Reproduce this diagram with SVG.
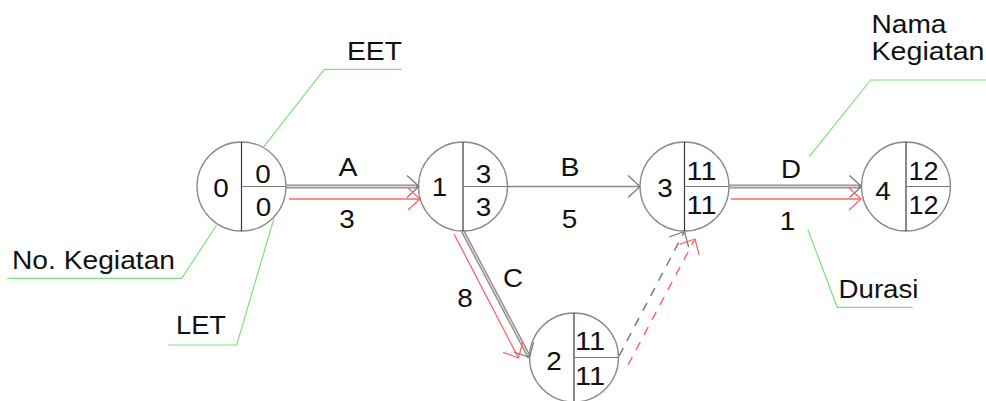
<svg xmlns="http://www.w3.org/2000/svg" width="986" height="401" viewBox="0 0 986 401">
  <style>
    text { font-family: "Liberation Sans", Arial, sans-serif; font-size: 25.5px; fill: #111; }
    .mid { text-anchor: middle; }
    .ring { fill: none; stroke: #8a8a8a; stroke-width: 1.3; }
    .vdiv { stroke: #3a3a3a; stroke-width: 1.2; }
    .hdiv { stroke: #7a7a7a; stroke-width: 1.2; }
    .crit-out { fill: none; stroke: #8a8a8a; stroke-width: 3.8; }
    .crit-in { fill: none; stroke: #dcdcdc; stroke-width: 1.3; }
    .plain { fill: none; stroke: #8a8a8a; stroke-width: 1.6; }
    .red { fill: none; stroke: #ff6464; stroke-width: 1.3; }
    .dash-gray { fill: none; stroke: #7a7a7a; stroke-width: 1.5; stroke-dasharray: 9 8; }
    .dash-red { fill: none; stroke: #ff6464; stroke-width: 1.5; stroke-dasharray: 9 8; }
    .leader { fill: none; stroke: #7be27b; stroke-width: 1.2; }
  </style>
  <defs>
    <marker id="headGray" markerUnits="userSpaceOnUse" orient="auto" refX="0" refY="0" markerWidth="30" markerHeight="30" overflow="visible">
      <path d="M-12,-11 L0,0 L-12,11" fill="none" stroke="#7a7a7a" stroke-width="1.3"/>
    </marker>
    <marker id="headRed" markerUnits="userSpaceOnUse" orient="auto" refX="0" refY="0" markerWidth="30" markerHeight="30" overflow="visible">
      <path d="M-12,-11 L0,0 L-12,11" fill="none" stroke="#ff6464" stroke-width="1.3"/>
    </marker>
  </defs>

  <rect width="986" height="401" fill="#ffffff"/>

  <!-- activity arrows -->
  <g id="connectors">
    <!-- A -->
    <path class="crit-out" d="M286,186.5 H419" marker-end="url(#headGray)"/>
    <path class="crit-in" d="M286,186.5 H416"/>
    <path class="red" d="M289,199 H420" marker-end="url(#headRed)"/>
    <!-- B -->
    <path class="plain" d="M507.5,186.5 H640" marker-end="url(#headGray)"/>
    <!-- C -->
    <path class="crit-out" d="M462.7,231 L529.5,357.5" marker-end="url(#headGray)"/>
    <path class="crit-in" d="M462.7,231 L528.3,355.2"/>
    <path class="red" d="M454,234 L518.5,358" marker-end="url(#headRed)"/>
    <!-- D -->
    <path class="crit-out" d="M729,186.5 H861.5" marker-end="url(#headGray)"/>
    <path class="crit-in" d="M729,186.5 H858.5"/>
    <path class="red" d="M731,199 H861" marker-end="url(#headRed)"/>
    <!-- dummy -->
    <path class="dash-gray" d="M619,356 L684.5,231.5" marker-end="url(#headGray)"/>
    <path class="dash-red" d="M628,365 L695,239" marker-end="url(#headRed)"/>
  </g>

  <!-- activity labels -->
  <g id="activity-labels">
    <text class="mid" x="348" y="176" textLength="19" lengthAdjust="spacingAndGlyphs">A</text>
    <text class="mid" x="347" y="228" textLength="15.5" lengthAdjust="spacingAndGlyphs">3</text>
    <text class="mid" x="570" y="176" textLength="19" lengthAdjust="spacingAndGlyphs">B</text>
    <text class="mid" x="569.5" y="227.5" textLength="15.5" lengthAdjust="spacingAndGlyphs">5</text>
    <text class="mid" x="513" y="287" textLength="20" lengthAdjust="spacingAndGlyphs">C</text>
    <text class="mid" x="465" y="307" textLength="15.5" lengthAdjust="spacingAndGlyphs">8</text>
    <text class="mid" x="791" y="177.5" textLength="20" lengthAdjust="spacingAndGlyphs">D</text>
    <text class="mid" x="787.5" y="229.5" textLength="15.5" lengthAdjust="spacingAndGlyphs">1</text>
  </g>

  <!-- events -->
  <g id="node-0">
    <circle class="ring" cx="241.5" cy="186.5" r="44.5"/>
    <line class="vdiv" x1="241.5" y1="142" x2="241.5" y2="231"/>
    <line class="hdiv" x1="241.5" y1="186.5" x2="286" y2="186.5"/>
    <text class="mid" x="221" y="197" textLength="15.5" lengthAdjust="spacingAndGlyphs">0</text>
    <text class="mid" x="263" y="183" textLength="15.5" lengthAdjust="spacingAndGlyphs">0</text>
    <text class="mid" x="263.5" y="216" textLength="15.5" lengthAdjust="spacingAndGlyphs">0</text>
  </g>
  <g id="node-1">
    <circle class="ring" cx="463" cy="186.5" r="44.5"/>
    <line class="vdiv" x1="463" y1="142" x2="463" y2="231"/>
    <line class="hdiv" x1="463" y1="186.5" x2="507.5" y2="186.5"/>
    <text class="mid" x="439.5" y="196" textLength="15.5" lengthAdjust="spacingAndGlyphs">1</text>
    <text class="mid" x="483.5" y="183" textLength="15.5" lengthAdjust="spacingAndGlyphs">3</text>
    <text class="mid" x="483.5" y="216" textLength="15.5" lengthAdjust="spacingAndGlyphs">3</text>
  </g>
  <g id="node-2">
    <circle class="ring" cx="574" cy="357.5" r="44.5"/>
    <line class="vdiv" x1="574" y1="313" x2="574" y2="402"/>
    <line class="hdiv" x1="574" y1="357.5" x2="618.5" y2="357.5"/>
    <text class="mid" x="554" y="369.5" textLength="15.5" lengthAdjust="spacingAndGlyphs">2</text>
    <text class="mid" x="590" y="350" textLength="30" lengthAdjust="spacingAndGlyphs">11</text>
    <text class="mid" x="590" y="385" textLength="30" lengthAdjust="spacingAndGlyphs">11</text>
  </g>
  <g id="node-3">
    <circle class="ring" cx="684.5" cy="186.5" r="44.5"/>
    <line class="vdiv" x1="684.5" y1="142" x2="684.5" y2="231"/>
    <line class="hdiv" x1="684.5" y1="186.5" x2="729" y2="186.5"/>
    <text class="mid" x="665" y="196.5" textLength="15.5" lengthAdjust="spacingAndGlyphs">3</text>
    <text class="mid" x="701.5" y="180" textLength="30" lengthAdjust="spacingAndGlyphs">11</text>
    <text class="mid" x="701.5" y="213.5" textLength="30" lengthAdjust="spacingAndGlyphs">11</text>
  </g>
  <g id="node-4">
    <circle class="ring" cx="906" cy="186.5" r="44.5"/>
    <line class="vdiv" x1="906" y1="142" x2="906" y2="231"/>
    <line class="hdiv" x1="906" y1="186.5" x2="950.5" y2="186.5"/>
    <text class="mid" x="883" y="200" textLength="15.5" lengthAdjust="spacingAndGlyphs">4</text>
    <text class="mid" x="923.5" y="180" textLength="30" lengthAdjust="spacingAndGlyphs">12</text>
    <text class="mid" x="923.5" y="213.5" textLength="30" lengthAdjust="spacingAndGlyphs">12</text>
  </g>

  <!-- legend callouts -->
  <g id="callouts">
    <polyline class="leader" points="263.3,147.3 324.3,69.3 401.7,69.3"/>
    <text x="347" y="59.5" textLength="55" lengthAdjust="spacingAndGlyphs">EET</text>

    <polyline class="leader" points="216.7,225 181.7,278.3 7.3,278.3"/>
    <text x="12" y="269.3" textLength="163" lengthAdjust="spacingAndGlyphs">No. Kegiatan</text>

    <polyline class="leader" points="274,218.3 236.7,345 168.3,345"/>
    <text x="176" y="334" textLength="50" lengthAdjust="spacingAndGlyphs">LET</text>

    <polyline class="leader" points="809.3,156.7 870.7,80 986,80"/>
    <text x="871.5" y="33.3" textLength="75" lengthAdjust="spacingAndGlyphs">Nama</text>
    <text x="871.5" y="60" textLength="113" lengthAdjust="spacingAndGlyphs">Kegiatan</text>

    <polyline class="leader" points="807.7,229.3 837.3,307.3 912.7,307.3"/>
    <text x="838.5" y="298.3" textLength="80" lengthAdjust="spacingAndGlyphs">Durasi</text>
  </g>
</svg>
